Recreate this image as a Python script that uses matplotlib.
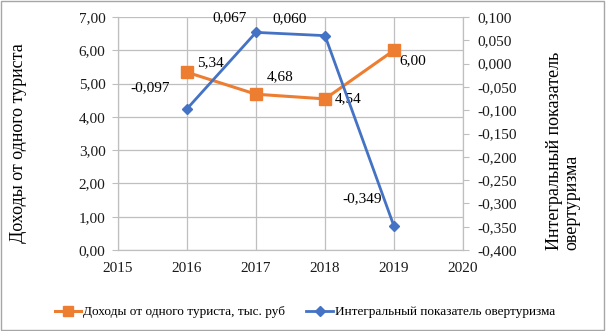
import matplotlib
matplotlib.use("Agg")
import matplotlib.pyplot as plt
from matplotlib.ticker import FuncFormatter, MultipleLocator
from matplotlib.patches import Rectangle

years = [2016, 2017, 2018, 2019]
income = [5.34, 4.68, 4.54, 6.00]
overtourism = [-0.097, 0.067, 0.060, -0.349]
income_labels = ["5,34", "4,68", "4,54", "6,00"]
over_labels = ["-0,097", "0,067", "0,060", "-0,349"]
xticks = [2015, 2016, 2017, 2018, 2019, 2020]

plt.rcParams['font.family'] = ['Liberation Serif', 'DejaVu Serif']
fs = 11

fig = plt.figure(figsize=(6.06, 3.31), dpi=100)
fig.patches.append(Rectangle((0.002, 0.003), 0.995, 0.994, transform=fig.transFigure,
                             fill=False, edgecolor='#a6a6a6', linewidth=1.0))
ax = fig.add_axes([118/606, 1 - 250/331, 345/606, 233/331])
ax2 = ax.twinx()

ax.set_xlim(2015, 2020)
ax.set_ylim(0, 7)
ax2.set_ylim(-0.4, 0.1)
ax.set_xticks(xticks)
ax.yaxis.set_major_locator(MultipleLocator(1))
ax2.yaxis.set_major_locator(MultipleLocator(0.05))
ax.yaxis.set_major_formatter(FuncFormatter(lambda v, p: f"{v:.2f}".replace('.', ',')))
ax2.yaxis.set_major_formatter(FuncFormatter(lambda v, p: f"{v:.3f}".replace('.', ',').replace('-0,000', '0,000')))

ax.grid(True, color='#bfbfbf', linewidth=0.9)
ax.set_axisbelow(True)
for a in (ax, ax2):
    a.spines['top'].set_visible(False)
    for s in ('left', 'right', 'bottom'):
        a.spines[s].set_color('#bfbfbf')
    a.tick_params(colors='#bfbfbf', labelcolor='#1a1a1a', labelsize=fs, length=4, width=0.8)
ax.tick_params(axis='x', length=0, pad=9)
ax.tick_params(axis='y', pad=5)
ax2.tick_params(axis='y', pad=6)

l1, = ax.plot(years, income, color='#ED7D31', linewidth=2.2, marker='s', markersize=8,
              label='Доходы от одного туриста, тыс. руб', zorder=3)
l2, = ax2.plot(years, overtourism, color='#4472C4', linewidth=2.0, marker='D', markersize=5.5,
               label='Интегральный показатель овертуризма', zorder=3)

k = 0.72  # px -> pt
inc_off = [(23, 10), (24, 18), (23, 0), (19, -10)]
for x, y, t, o in zip(years, income, income_labels, inc_off):
    ax.annotate(t, (x, y), xytext=(o[0] * k, o[1] * k), textcoords='offset points',
                ha='center', va='center', fontsize=fs)

ov_off = [(-37, 21), (-26, 15), (-35, 17), (-32, 28)]
for x, y, t, o in zip(years, overtourism, over_labels, ov_off):
    ax2.annotate(t, (x, y), xytext=(o[0] * k, o[1] * k), textcoords='offset points',
                 ha='center', va='center', fontsize=fs)

fig.text(19/606, 1 - 143/331, 'Доходы от одного туриста', rotation=90, fontsize=13,
         ha='center', va='center')
fig.text(563/606, 1 - 250/331, 'Интегральный показатель\nовертуризма', rotation=90, fontsize=13,
         ha='center', va='bottom', multialignment='left', linespacing=1.0)

fig.legend(handles=[l1, l2], loc='center', bbox_to_anchor=(305/606, 1 - 312/331), ncol=2, frameon=False,
           fontsize=9.5, handlelength=2.0, columnspacing=1.6, handletextpad=0.15, markerscale=0.85)

fig.savefig('out.png', dpi=100)
